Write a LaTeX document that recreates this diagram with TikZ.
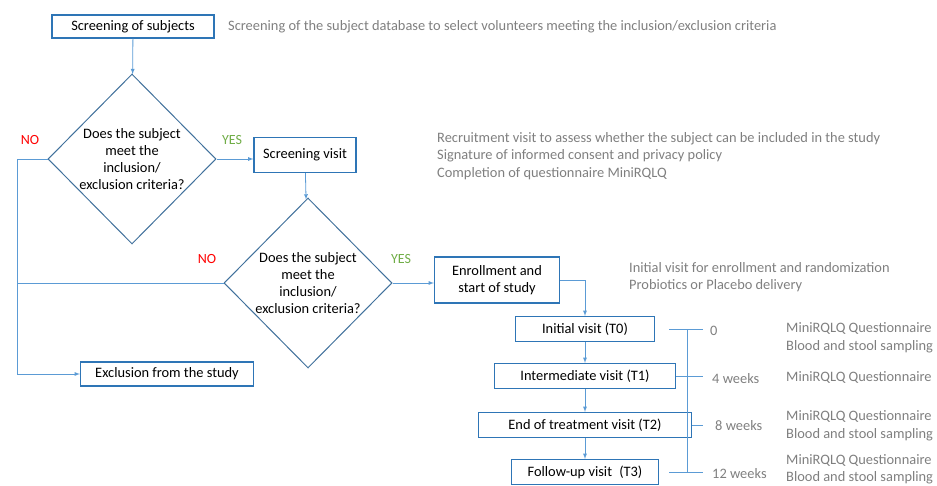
\documentclass[tikz,border=0pt]{standalone}
\usepackage{fontspec}
\setmainfont{Carlito}
\usetikzlibrary{shapes.geometric}
\definecolor{boxblue}{HTML}{2E75B6}
\definecolor{diablue}{HTML}{41719C}
\definecolor{lineblue}{HTML}{5B9BD5}
\definecolor{notegray}{HTML}{7F7F7F}
\definecolor{noRed}{HTML}{FF0000}
\definecolor{yesGreen}{HTML}{70AD47}
\tikzset{
	stage/.style={draw=boxblue, line width=1.2pt, fill=white, align=center, inner sep=1pt, font=\fontsize{14.4}{17}\selectfont},
	decide/.style={diamond, draw=diablue, line width=1pt, inner sep=0pt, align=center, minimum width=168pt, minimum height=170pt, font=\fontsize{14.4}{17}\selectfont},
	note/.style={text=notegray, anchor=west, align=left, inner sep=0pt, font=\fontsize{14.4}{17.5}\selectfont},
	answer/.style={inner sep=0pt, font=\fontsize{14}{16}\selectfont},
	flow/.style={draw=lineblue, line width=0.8pt},
}
\begin{document}
\begin{tikzpicture}[x=1pt,y=-1pt]
	\useasboundingbox (0,0) rectangle (937,486);
	%
	\coordinate (nocorner) at (17,374);
	\coordinate (tl) at (669,0);
	\coordinate (tm) at (687,0);
	\coordinate (tr) at (703,0);
	%
	\node[stage, minimum width=162pt, minimum height=23pt] (subj) at (133,26.5) {Screening of subjects};
	\node[note] (subjnote) at (228,27) {Screening of the subject database to select volunteers meeting the inclusion/exclusion criteria};
	\node[decide] (dia1) at (132,159) {Does the subject\\meet the\\inclusion/\\exclusion criteria?};
	\node[stage, minimum width=102pt, minimum height=35pt] (svisit) at (305,155) {Screening visit};
	\node[note] (svnote) at (437,156) {Recruitment visit to assess whether the subject can be included in the study\\Signature of informed consent and privacy policy\\Completion of questionnaire MiniRQLQ};
	\node[decide] (dia2) at (308,283) {Does the subject\\meet the\\inclusion/\\exclusion criteria?};
	\node[stage, minimum width=125pt, minimum height=46pt] (enrol) at (497,280) {Enrollment and\\start of study};
	\node[note] (ennote) at (629,277) {Initial visit for enrollment and randomization\\Probiotics or Placebo delivery};
	\node[stage, minimum width=173pt, minimum height=24pt] (excl) at (167,374) {Exclusion from the study};
	%
	\node[answer, text=noRed] (no1) at (30,140) {NO};
	\node[answer, text=yesGreen] (yes1) at (232,140) {YES};
	\node[answer, text=noRed] (no2) at (207,259) {NO};
	\node[answer, text=yesGreen] (yes2) at (401,259) {YES};
	%
	\foreach \i/\y/\w/\txt in {0/329/139/{Initial visit (T0)}, 1/376/181/{Intermediate visit (T1)}, 2/425/213/{End of treatment visit (T2)}, 3/472/147/{Follow-up visit\enspace(T3)}}
	\node[stage, minimum width=\w pt, minimum height=25pt] (t\i) at (585,\y) {\txt};
	%
	\node[note] (w0) at (710,331) {0};
	\node[note] (w1) at (712,379) {4 weeks};
	\node[note] (w2) at (715,426) {8 weeks};
	\node[note] (w3) at (712,474) {12 weeks};
	\node[note] (m0) at (786,338) {MiniRQLQ Questionnaire\\Blood and stool sampling};
	\node[note] (m1) at (786,377) {MiniRQLQ Questionnaire};
	\node[note] (m2) at (786,426) {MiniRQLQ Questionnaire\\Blood and stool sampling};
	\node[note] (m3) at (786,469.5) {MiniRQLQ Questionnaire\\Blood and stool sampling};
	%
	\draw[flow,-latex] (subj) -- (dia1);
	\draw[flow,-latex] (dia1.east) -- (dia1.east -| svisit.west);
	\draw[flow,-latex] (svisit) -- (dia2);
	\draw[flow,-latex] (dia2.east) -- (dia2.east -| enrol.west);
	\draw[flow,-latex] (enrol.east) -| (t0.north);
	\draw[flow,-latex] (dia1.west) -| (nocorner) -- (excl.west);
	\draw[flow] (dia2.west) -- (dia2.west -| nocorner);
	\foreach \i in {0,...,2}{
			\edef\ipp{\fpeval{\i + 1}}
			\draw[flow,-latex] (t\i) -- (t\ipp);
		}
	%
	\foreach \i/\s in {0/tl, 1/t1.east, 2/t2.east, 3/tl}
	\draw[flow] (t\i -| \s) -- (t\i -| tr);
	\draw[flow] (t0 -| tm) -- (t3 -| tm);
\end{tikzpicture}
\end{document}
